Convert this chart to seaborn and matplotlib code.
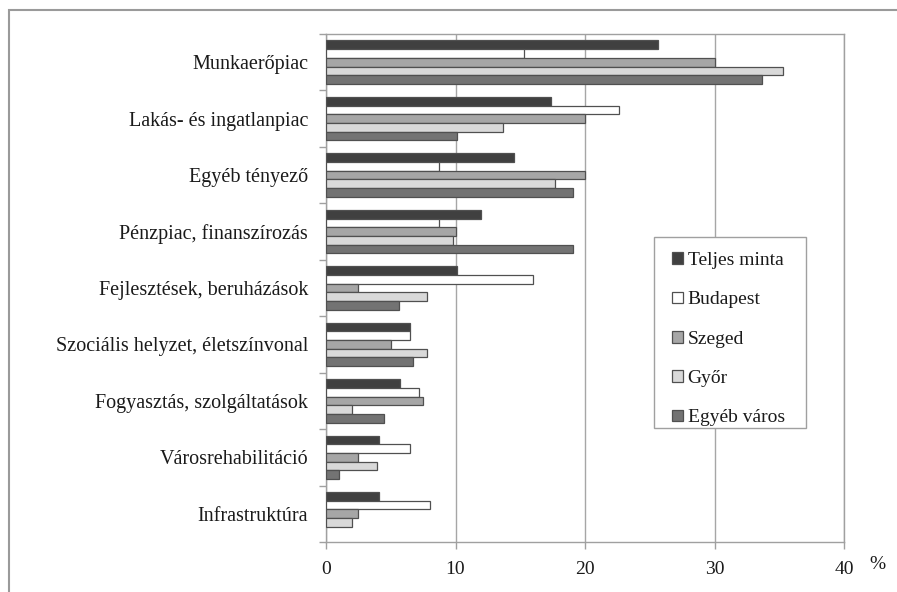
import matplotlib
matplotlib.use("Agg")
import matplotlib.pyplot as plt
import seaborn as sns
import pandas as pd
from matplotlib.patches import Rectangle
from matplotlib.ticker import FixedLocator

categories = ["Munkaerőpiac", "Lakás- és ingatlanpiac", "Egyéb tényező",
              "Pénzpiac, finanszírozás", "Fejlesztések, beruházások",
              "Szociális helyzet, életszínvonal", "Fogyasztás, szolgáltatások",
              "Városrehabilitáció", "Infrastruktúra"]
series_names = ["Teljes minta", "Budapest", "Szeged", "Győr", "Egyéb város"]
teljes = [25.6, 17.4, 14.5, 12.0, 10.1, 6.5, 5.7, 4.1, 4.1]
budapest = [15.3, 22.6, 8.75, 8.75, 16.0, 6.5, 7.2, 6.5, 8.0]
szeged = [30.0, 20.0, 20.0, 10.0, 2.5, 5.0, 7.5, 2.5, 2.5]
gyor = [35.3, 13.7, 17.7, 9.8, 7.8, 7.8, 2.0, 3.9, 2.0]
egyeb = [33.7, 10.1, 19.1, 19.1, 5.6, 6.7, 4.45, 1.0, 0.0]
xticks = [0, 10, 20, 30, 40]
colors = ["#404040", "#ffffff", "#a6a6a6", "#d9d9d9", "#737373"]

rows = []
for name, vals in zip(series_names, [teljes, budapest, szeged, gyor, egyeb]):
    for c, v in zip(categories, vals):
        rows.append({"cat": c, "series": name, "value": v})
df = pd.DataFrame(rows)

sns.set_theme(style="white")
plt.rcParams["font.family"] = ["Liberation Serif", "DejaVu Serif"]

W, H = 897, 592
fig = plt.figure(figsize=(W/100, H/100), dpi=100)
ax = fig.add_axes([326/W, 1-542/H, (844-326)/W, (542-34)/H])

sns.barplot(data=df, x="value", y="cat", hue="series", order=categories,
            hue_order=series_names, palette=colors, width=0.77, saturation=1,
            edgecolor="#505050", linewidth=0.9, ax=ax, zorder=3)

for p in ax.patches:
    if abs(p.get_width()) < 1e-9 and p.get_height() > 0:
        p.set_linewidth(0)

ax.set_xlim(0, 40)
ax.set_ylim(len(categories) - 0.5, -0.5)
ax.set_xticks(xticks)
ax.set_xticklabels([str(t) for t in xticks])
ax.set_xlabel("")
ax.set_ylabel("")
ax.xaxis.grid(True, color="#a6a6a6", linewidth=1.0, zorder=0)
ax.set_axisbelow(True)

gray = "#a0a0a0"
for s in ax.spines.values():
    s.set_color(gray)
    s.set_linewidth(1.0)
    s.set_visible(True)

ax.tick_params(axis="y", which="major", length=0, pad=13, labelsize=14.5, labelcolor="#1a1a1a")
ax.yaxis.set_minor_locator(FixedLocator([i - 0.5 for i in range(len(categories) + 1)]))
ax.tick_params(axis="y", which="minor", length=5, width=1, color=gray, direction="out", left=True)
ax.tick_params(axis="x", which="major", length=5, width=1, color=gray, direction="out",
               pad=9, labelsize=14, labelcolor="#1a1a1a", bottom=True)

ax.text(1.065, -0.045, "%", transform=ax.transAxes, ha="center", va="center",
        fontsize=14, color="#1a1a1a")

# legend frame (drawn separately to match the reference box size)
ax.add_patch(Rectangle((654/W, 1-428/H), (806-654)/W, (428-237)/H, transform=fig.transFigure,
                       facecolor="white", edgecolor=gray, linewidth=1.0, zorder=4))

handles, labels = ax.get_legend_handles_labels()
leg = ax.legend(handles, labels, loc="upper left",
                bbox_to_anchor=(672/W, 1-252/H), bbox_transform=fig.transFigure,
                frameon=False, fontsize=14,
                handlelength=0.55, handleheight=0.55, handletextpad=0.25,
                labelspacing=1.15, borderpad=0, borderaxespad=0)
leg.set_zorder(5)
for t in leg.get_texts():
    t.set_color("#1a1a1a")
for h in leg.legend_handles:
    h.set_edgecolor("#505050")
    h.set_linewidth(0.9)

fig.patches.append(Rectangle((9/W, -0.2), 1.5, 1.2 - 10/H, transform=fig.transFigure,
                             fill=False, edgecolor="#9a9a9a", linewidth=1.5))

fig.savefig("out.png", dpi=100, facecolor="white")
